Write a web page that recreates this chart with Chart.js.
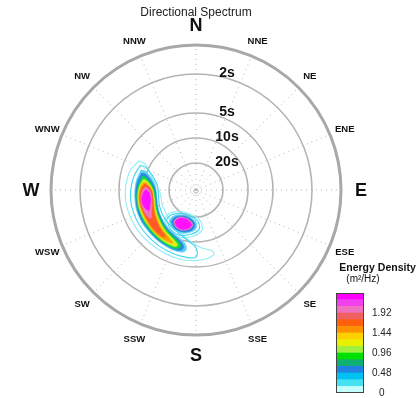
<!DOCTYPE html>
<html><head><meta charset="utf-8">
<script src="https://cdn.jsdelivr.net/npm/chart.js@4/dist/chart.umd.min.js"></script>
<style>
html,body{margin:0;padding:0;background:#fff;overflow:hidden}
#wrap{position:relative;width:419px;height:398px;overflow:hidden}
#main{position:absolute;left:0;top:0;width:419px;height:398px}
#bar{position:absolute;left:328px;top:255px;width:91px;height:152px}
</style></head><body>
<div id="wrap"><canvas id="main" width="419" height="398"></canvas><canvas id="bar" width="91" height="152"></canvas></div>
<script>
// ---------- data ----------
const directionNames = ['N','NNE','NE','ENE','E','ESE','SE','SSE','S','SSW','SW','WSW','W','WNW','NW','NNW'];
const ringLabels = ['20s','10s','5s','2s'];
const ringRadius = [27, 52, 77, 116];   // radial position of each period ring
const outerRadius = 145;

// contour levels (m^2/Hz)
const contourLevels = [0.16, 0.32, 0.48, 0.64, 0.96, 1.28, 1.60, 1.76, 2.08, 2.24];

// main wind-sea crescent: per level, [direction deg, inner radius, outer radius]
const crescentContours = [
  [[297,57,64],[285,45,69],[265,36,71],[245,37,71],[225,39,70.5],[205,43,70.5],[190,50,71],[175,58,70],[165,63,67.5]],
  [[294,54,61],[280,40,64],[262,38,66],[245,40,66.5],[230,42,66.5],[215,44,67],[200,47,67.5],[188,52,68],[180,58,67]],
  [[290,53,58.5],[277,41.5,60.5],[259,40,62],[244,42,63],[230,44.5,63],[216,47,63.5],[204,49.5,64],[195,52.5,64],[190,57,62]],
  [[287,52,57],[275,42,59.5],[259,40.5,61],[245,42.5,62],[231,45,62],[218,48,62.5],[206,50.5,63],[198,53,63],[193,57,61]],
  [[284,51.5,55.5],[273,43,58],[259,41.5,60],[245,43.5,60.5],[232,46,61],[219,49,61.5],[208,51.5,62],[200,54,62],[196,57,60]],
  [[281,51,54],[272,44,57],[259,42.5,59],[246,44.5,59.5],[233,47,59.5],[221,50,60],[211,52.5,60.5],[203,55,60.5],[199,57.5,59.5]],
  [[278,50.5,53],[271,44.5,56],[259,43.5,58],[247,45.5,58],[235,48,58.5],[224,51,59],[214,53.5,59],[207,56,58.5],[204,57,58]],
  [[276,50,52],[270,45,55],[259,44,57],[248,46,57],[237,49,57],[227,51.5,57.5],[219,54,57.5],[214,55.5,56.5]],
  [[273,49.5,51],[268,46,54],[259,45,56],[250,47,56],[243,50,55.5],[238,52.5,53.5]],
  [[270,49.5,50.5],[266,47,53],[259,46.5,55],[252,48.5,54.5],[247,51,52]]
];

// secondary swell peak (SSW)
const swellContours = [
  [[228,34,43],[213,26,49],[200,24.5,50],[186,25.5,47],[172,31,41]],
  [[225,35,42],[212,27.5,47],[200,26,48],[188,27,45],[176,32,40]],
  [[221,35,41],[211,29,45],[200,27.5,45.5],[189,28.5,43],[180,32.5,38.5]],
  [[218,35,40],[210,30,43.5],[200,28.5,44],[190,29.5,42],[183,33,38]],
  null, null, null, null,
  [[215,35.5,38.5],[209,31,42],[200,30,42.5],[192,31,40.5],[186,34,37]],
  [[213,36,38],[208,32,41],[200,31,41.5],[193,32,39.5],[188,34.5,36.5]]
];

// colour bar
const colorbarEdges = [0,0.16,0.32,0.48,0.64,0.80,0.96,1.12,1.28,1.44,1.60,1.76,1.92,2.08,2.24,2.40];
const colorbarTicks = [0, 0.48, 0.96, 1.44, 1.92];

// ---------- styles ----------
const levelColors = ['#8fecf4','#3fd6ee','#5ad2f2','#2a86e4','#12d84a','#d8f020','#ffa000','#ff5a28','#f074c4','#ff10ff'];
const bandColors = ['#c4ffff','#44e2f2','#00c2f2','#2282e2','#0eb074','#00e000','#a0f040','#e8f000','#ffd000','#ff9000','#ff6010','#f06060','#f070c0','#f040f0','#ff00ff'];
const FONT = '"Liberation Sans", Arial, sans-serif';
Chart.defaults.font.family = FONT;

function polarPoint(dir, r) {
  const a = dir * Math.PI / 180;
  return {x: r * Math.sin(a), y: r * Math.cos(a)};
}
function contourPath(band) {
  const outer = band.map(t => polarPoint(t[0], t[2]));
  const inner = band.slice().reverse().map(t => polarPoint(t[0], t[1]));
  const pts = outer.concat(inner);
  pts.push(pts[0]);
  return pts;
}

const datasets = [];
contourLevels.forEach((lvl, k) => {
  [crescentContours[k], swellContours[k]].forEach(band => {
    if (!band) return;
    const filled = lvl >= 0.48;
    datasets.push({
      data: contourPath(band),
      fill: filled ? 'shape' : false,
      backgroundColor: levelColors[k],
      borderColor: levelColors[k],
      borderWidth: filled ? 0.8 : 1.1,
      pointRadius: 0, pointHoverRadius: 0,
      tension: 0.4,
      order: 100 - k
    });
  });
});

const polarGrid = {
  id: 'polarGrid',
  beforeDatasetsDraw(chart) {
    const {ctx, scales: {x, y}} = chart;
    const cx = x.getPixelForValue(0), cy = y.getPixelForValue(0);
    ctx.save();
    ctx.strokeStyle = '#b4b4b4'; ctx.lineWidth = 1; ctx.setLineDash([1, 4]);
    directionNames.forEach((n, i) => {
      const p = polarPoint(i * 22.5, outerRadius);
      ctx.beginPath(); ctx.moveTo(cx, cy);
      ctx.lineTo(x.getPixelForValue(p.x), y.getPixelForValue(p.y));
      ctx.stroke();
    });
    ctx.setLineDash([]);
    ctx.strokeStyle = '#b4b4b4'; ctx.lineWidth = 1.6;
    ringRadius.forEach(r => {
      ctx.beginPath(); ctx.arc(cx, cy, x.getPixelForValue(r) - cx, 0, 2 * Math.PI); ctx.stroke();
    });
    ctx.strokeStyle = '#a8a8a8'; ctx.lineWidth = 3;
    ctx.beginPath(); ctx.arc(cx, cy, x.getPixelForValue(outerRadius) - cx, 0, 2 * Math.PI); ctx.stroke();
    ctx.strokeStyle = '#b0b0b0'; ctx.lineWidth = 1;
    ctx.beginPath(); ctx.arc(cx, cy + 1, 2.2, 0, 2 * Math.PI); ctx.stroke();
    ctx.restore();
  },
  afterDatasetsDraw(chart) {
    const {ctx, scales: {x, y}} = chart;
    ctx.save();
    ctx.fillStyle = '#111'; ctx.textAlign = 'center'; ctx.textBaseline = 'middle';
    ctx.font = 'bold 14px ' + FONT;
    ringLabels.forEach((t, i) => {
      ctx.fillText(t, x.getPixelForValue(31), y.getPixelForValue(ringRadius[i] + 2) + 1);
    });
    directionNames.forEach((name, i) => {
      const big = name.length === 1;
      const p = polarPoint(i * 22.5, big ? 165 : 161);
      ctx.font = big ? 'bold 18px ' + FONT : 'bold 9.5px ' + FONT;
      ctx.fillText(name, x.getPixelForValue(p.x), y.getPixelForValue(p.y) + (big ? 1 : 0.5));
    });
    ctx.restore();
  }
};

new Chart(document.getElementById('main'), {
  type: 'line',
  data: {datasets},
  options: {
    responsive: false, animation: false, events: [],
    layout: {padding: {left: 51, right: 78, top: 0, bottom: 63}},
    scales: {
      x: {type: 'linear', min: -outerRadius, max: outerRadius, display: false},
      y: {type: 'linear', min: -outerRadius, max: outerRadius, display: false}
    },
    plugins: {
      legend: {display: false}, tooltip: {enabled: false},
      title: {display: true, text: 'Directional Spectrum', fullSize: false, color: '#222',
        font: {size: 12, weight: 'normal'}, padding: {top: 5, bottom: 25.6}}
    }
  },
  plugins: [polarGrid]
});

const barFrame = {
  id: 'barFrame',
  afterDatasetsDraw(chart) {
    const {ctx, chartArea: a} = chart;
    ctx.save();
    ctx.strokeStyle = '#444'; ctx.lineWidth = 1;
    ctx.strokeRect(a.left + 0.5, a.top + 0.5, a.right - a.left - 1, a.bottom - a.top - 1);
    ctx.fillStyle = '#111'; ctx.textAlign = 'center'; ctx.textBaseline = 'middle';
    ctx.font = '10px ' + FONT;
    ctx.fillText('(m²/Hz)', 35, 24);
    ctx.restore();
  }
};

new Chart(document.getElementById('bar'), {
  type: 'bar',
  data: {
    labels: [''],
    datasets: bandColors.map((c, i) => ({
      data: [colorbarEdges[i + 1] - colorbarEdges[i]],
      backgroundColor: c, borderWidth: 0, barPercentage: 1, categoryPercentage: 1
    }))
  },
  options: {
    responsive: false, animation: false, events: [],
    layout: {padding: {left: 8, right: 0, top: 0, bottom: 6}},
    scales: {
      x: {stacked: true, display: false},
      y: {stacked: true, min: 0, max: 2.4, position: 'right',
        grid: {display: false, drawTicks: false}, border: {display: false},
        ticks: {padding: 8, crossAlign: 'center', color: '#222', font: {size: 10},
          callback: v => v === 0 ? '0' : Number(v).toFixed(2)},
        afterBuildTicks: s => { s.ticks = colorbarTicks.map(v => ({value: v})); },
        afterFit: s => { s.width = 55; }
      }
    },
    plugins: {
      legend: {display: false}, tooltip: {enabled: false},
      title: {display: true, text: 'Energy Density', color: '#111',
        font: {size: 10.5, weight: 'bold'}, padding: {top: 7, bottom: 18.4}}
    }
  },
  plugins: [barFrame]
});
</script></body></html>
